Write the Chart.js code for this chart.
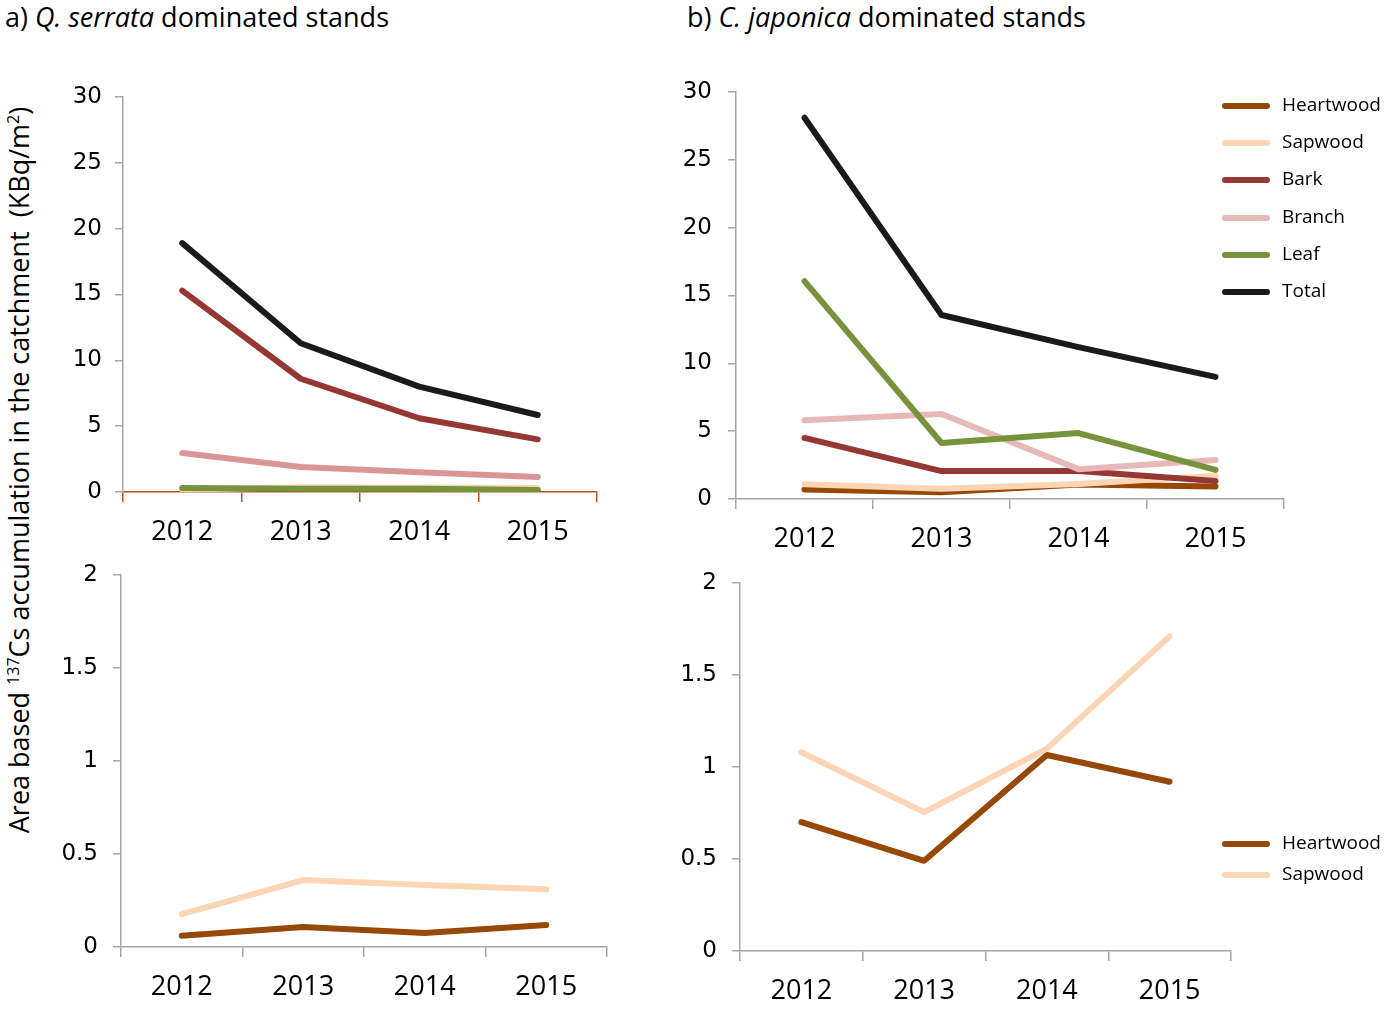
<!DOCTYPE html>
<html>
<head>
<meta charset="utf-8">
<script src="https://cdn.jsdelivr.net/npm/chart.js@4/dist/chart.umd.min.js"></script>
<style>
  html, body { margin: 0; padding: 0; background: #ffffff; }
  body { width: 1384px; height: 1009px; position: relative; overflow: hidden; font-family: "Open Sans", sans-serif; color: #000; }
  canvas { position: absolute; }
  .title { position: absolute; font-size: 27px; white-space: nowrap; line-height: 1; }
  .ytitle { position: absolute; font-size: 27px; white-space: nowrap; line-height: 1; transform: translate(-50%, -50%) rotate(-90deg); }
  .ytitle sup { font-size: 16px; vertical-align: 10px; line-height: 0; }
  .legend { position: absolute; font-size: 19px; line-height: 1; }
  .legend .row { position: absolute; left: 0; white-space: nowrap; }
  .legend .sw { position: absolute; left: 0; width: 48px; height: 6px; border-radius: 3px; }
  .legend .tx { position: absolute; left: 60px; top: -11px; }
</style>
</head>
<body>
<div class="title" style="left:5px; top:3px;">a) <i>Q. serrata</i> dominated stands</div>
<div class="title" style="left:687px; top:3px;">b) <i>C. japonica</i> dominated stands</div>
<div class="ytitle" style="left:18px; top:470px;">Area based <sup>137</sup>Cs accumulation in the catchment&nbsp;&nbsp;(KBq/m<sup>2</sup>)</div>

<canvas id="cTL" width="580" height="497" style="left:40px; top:63px;"></canvas>
<canvas id="cTR" width="650" height="503" style="left:650px; top:58px;"></canvas>
<canvas id="cBL" width="590" height="468" style="left:30px; top:541px;"></canvas>
<canvas id="cBR" width="600" height="460" style="left:650px; top:549px;"></canvas>

<div class="legend" id="legTop" style="left:1222px; top:0px;"></div>
<div class="legend" id="legBot" style="left:1222px; top:0px;"></div>

<script>
// ---------- data ----------
const years = ['2012', '2013', '2014', '2015'];
const seriesNames = ['Heartwood', 'Sapwood', 'Bark', 'Branch', 'Leaf', 'Total'];

// a) Q. serrata dominated stands (KBq/m2)
const qsHeartwood = [0.06, 0.107, 0.075, 0.118];
const qsSapwood   = [0.177, 0.36, 0.333, 0.31];
const qsBark      = [15.3, 8.6, 5.6, 4.0];
const qsBranch    = [2.96, 1.9, 1.5, 1.14];
const qsLeaf      = [0.3, 0.25, 0.25, 0.15];
const qsTotal     = [18.9, 11.3, 8.0, 5.85];

// b) C. japonica dominated stands (KBq/m2)
const cjHeartwood = [0.70, 0.49, 1.065, 0.92];
const cjSapwood   = [1.08, 0.755, 1.10, 1.71];
const cjBark      = [4.5, 2.06, 2.06, 1.33];
const cjBranch    = [5.8, 6.26, 2.2, 2.87];
const cjLeaf      = [16.06, 4.13, 4.86, 2.14];
const cjTotal     = [28.1, 13.56, 11.2, 9.0];

// axis tick settings
const topTicks = { min: 0, max: 30, step: 5 };
const botTicks = { min: 0, max: 2, step: 0.5 };

// ---------- styles ----------
const colors = {
  Heartwood: '#974706',
  Sapwood: '#FCD5B5',
  Bark: '#953735',
  Branch: '#E6B9B8',
  BranchQS: '#D99694',
  Leaf: '#77933C',
  Total: '#1A1A1A'
};
const axisGray = '#A6A6A6';

function ds(label, data, color, idx, n) {
  return {
    label: label,
    data: data,
    borderColor: color,
    backgroundColor: color,
    borderWidth: 6,
    borderCapStyle: 'round',
    borderJoinStyle: 'round',
    pointRadius: 0,
    pointHoverRadius: 0,
    tension: 0,
    fill: false,
    order: n - idx
  };
}

function makeChart(id, datasets, ticks, geo) {
  const ctx = document.getElementById(id);
  return new Chart(ctx, {
    type: 'line',
    data: { labels: years, datasets: datasets },
    options: {
      responsive: false,
      animation: false,
      events: [],
      layout: { padding: { top: geo.padTop, right: geo.padRight, left: 0, bottom: 0 } },
      plugins: { legend: { display: false }, tooltip: { enabled: false }, title: { display: false } },
      scales: {
        x: {
          type: 'category',
          offset: true,
          grid: { display: true, offset: true, drawOnChartArea: false, drawTicks: true, tickLength: 10, color: geo.xColor, lineWidth: 1.5 },
          border: { display: true, color: geo.xColor, width: 1.5 },
          ticks: { color: '#000', font: { family: 'Open Sans', size: 27 }, padding: geo.xPad, maxRotation: 0, autoSkip: false },
          afterFit: (s) => { s.height = geo.xHeight; }
        },
        y: {
          min: ticks.min, max: ticks.max,
          grid: { display: true, drawOnChartArea: false, drawTicks: true, tickLength: 8, color: axisGray, lineWidth: 1.5 },
          border: { display: true, color: axisGray, width: 1.5 },
          ticks: { stepSize: ticks.step, color: '#000', font: { family: 'DejaVu Sans', size: 23 }, padding: geo.yPad,
                   callback: (v) => String(Number(v)) },
          afterFit: (s) => { s.width = geo.yWidth; }
        }
      }
    }
  });
}

// top-left
const qsColors = [colors.Heartwood, colors.Sapwood, colors.Bark, colors.BranchQS, colors.Leaf, colors.Total];
const qsAll = [qsHeartwood, qsSapwood, qsBark, qsBranch, qsLeaf, qsTotal];
makeChart('cTL', seriesNames.map((n, i) => ds(n, qsAll[i], qsColors[i], i, 6)), topTicks,
  { padTop: 34, padRight: 23, xHeight: 68, yWidth: 83, xPad: 14, yPad: 13, xColor: '#B5561C' });

// top-right
const cjColors = [colors.Heartwood, colors.Sapwood, colors.Bark, colors.Branch, colors.Leaf, colors.Total];
const cjAll = [cjHeartwood, cjSapwood, cjBark, cjBranch, cjLeaf, cjTotal];
makeChart('cTR', seriesNames.map((n, i) => ds(n, cjAll[i], cjColors[i], i, 6)), topTicks,
  { padTop: 34, padRight: 16, xHeight: 62, yWidth: 86, xPad: 14, yPad: 16, xColor: axisGray });

// bottom-left
makeChart('cBL', [ds('Heartwood', qsHeartwood, colors.Heartwood, 0, 2), ds('Sapwood', qsSapwood, colors.Sapwood, 1, 2)], botTicks,
  { padTop: 34, padRight: 13, xHeight: 62, yWidth: 91, xPad: 14, yPad: 15, xColor: axisGray });

// bottom-right
makeChart('cBR', [ds('Heartwood', cjHeartwood, colors.Heartwood, 0, 2), ds('Sapwood', cjSapwood, colors.Sapwood, 1, 2)], botTicks,
  { padTop: 34, padRight: 19, xHeight: 58, yWidth: 90, xPad: 14, yPad: 15, xColor: axisGray });

// ---------- legends ----------
function buildLegend(elId, names, cols, y0, dy) {
  const el = document.getElementById(elId);
  names.forEach((n, i) => {
    const row = document.createElement('div');
    row.className = 'row';
    row.style.top = (y0 + i * dy) + 'px';
    const sw = document.createElement('div');
    sw.className = 'sw';
    sw.style.top = '-3px';
    sw.style.background = cols[i];
    const tx = document.createElement('div');
    tx.className = 'tx';
    tx.textContent = n;
    row.appendChild(sw);
    row.appendChild(tx);
    el.appendChild(row);
  });
}
buildLegend('legTop', seriesNames, cjColors, 106, 37.2);
buildLegend('legBot', ['Heartwood', 'Sapwood'], [colors.Heartwood, colors.Sapwood], 844, 31);
</script>
</body>
</html>
